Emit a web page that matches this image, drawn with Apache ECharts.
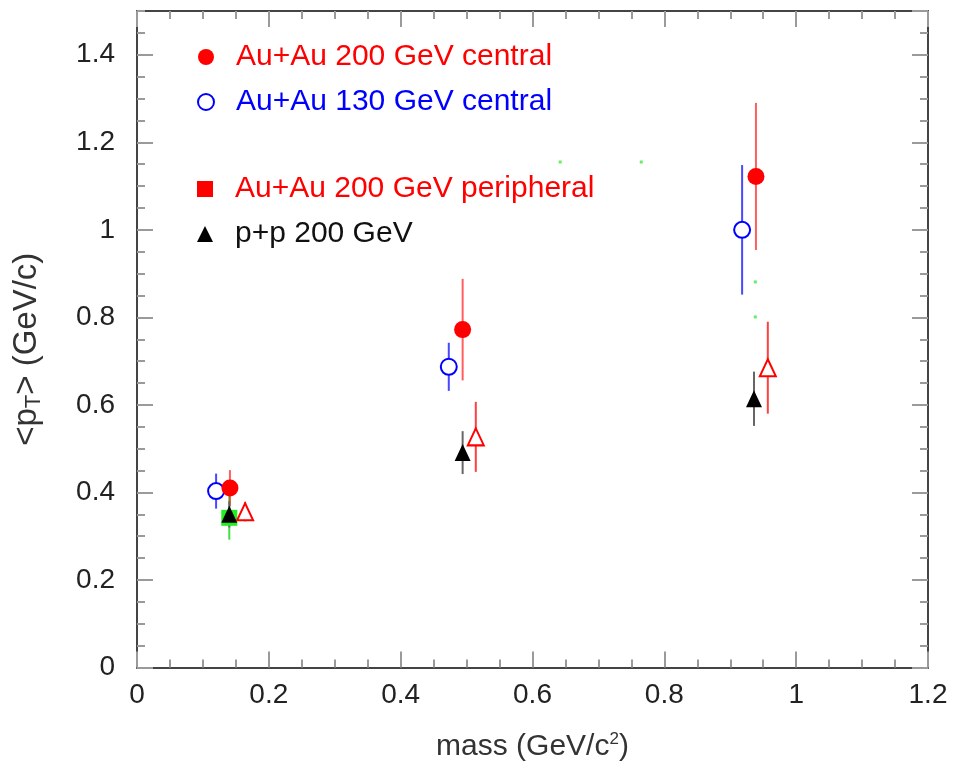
<!DOCTYPE html>
<html>
<head>
<meta charset="utf-8">
<script src="https://cdn.jsdelivr.net/npm/echarts@6/dist/echarts.min.js"></script>
<style>
  html, body { margin: 0; padding: 0; background: #fff; }
  #chart { width: 953px; height: 767px; }
</style>
</head>
<body>
<div id="chart"></div>
<script>
// Mean transverse momentum <pT> versus particle mass (pi, K, p)

// Au+Au 200 GeV central
const central200Mass = [0.141, 0.494, 0.939];
const central200Mean = [0.410, 0.772, 1.122];
const central200Err  = [0.041, 0.116, 0.168];

// Au+Au 130 GeV central
const central130Mass = [0.120, 0.473, 0.918];
const central130Mean = [0.403, 0.687, 1.000];
const central130Err  = [0.040, 0.055, 0.148];

// Au+Au 200 GeV peripheral
const peripheralMass = [0.164, 0.514, 0.957];
const peripheralMean = [0.356, 0.527, 0.685];
const peripheralErr  = [0.022, 0.080, 0.105];

// p+p 200 GeV
const ppMass = [0.140, 0.494, 0.936];
const ppMean = [0.350, 0.491, 0.614];
const ppErr  = [0.030, 0.049, 0.062];

// extra pion point (green)
const greenMass = [0.140];
const greenMean = [0.342];
const greenErr  = [0.050];

// small green dots
const dotMass = [0.642, 0.765, 0.938, 0.938];
const dotMean = [1.155, 1.155, 0.881, 0.801];

// axis ranges and tick spacing
const xRange = [0, 1.2];
const yRange = [0, 1.5];
const majorStepX = 0.2;
const majorStepY = 0.2;
const minorStepY = 0.05;

const FONT = "'Liberation Sans', Arial, Helvetica, sans-serif";
const FRAME = '#444';
const TICK = '#9a9a9a';

const zip = (xs, ys) => xs.map((x, i) => [x, ys[i]]);

function errorBars(name, xs, ys, es, color, z) {
  return {
    type: 'custom',
    name: name,
    silent: true,
    z: z,
    data: xs.map((x, i) => [x, ys[i] - es[i], ys[i] + es[i]]),
    encode: { x: 0, y: [1, 2] },
    renderItem: function (params, api) {
      const lo = api.coord([api.value(0), api.value(1)]);
      const hi = api.coord([api.value(0), api.value(2)]);
      return {
        type: 'line',
        shape: { x1: lo[0], y1: lo[1], x2: hi[0], y2: hi[1] },
        style: { stroke: color, lineWidth: 2 }
      };
    }
  };
}

function yAxisLayer(position, step, tickLen, labels, extra) {
  return Object.assign({
    type: 'value',
    position: position,
    min: yRange[0],
    max: yRange[1],
    interval: step,
    axisLine: { show: true, lineStyle: { color: FRAME, width: 2 } },
    axisTick: { show: true, inside: true, length: tickLen, lineStyle: { color: TICK, width: 2 } },
    axisLabel: labels
      ? { show: true, margin: 22, fontSize: 28, color: '#222', fontFamily: FONT, showMaxLabel: false }
      : { show: false },
    splitLine: { show: false }
  }, extra || {});
}

function xAxisLayer(position, labels, extra) {
  return Object.assign({
    type: 'value',
    position: position,
    min: xRange[0],
    max: xRange[1],
    interval: majorStepX,
    axisLine: { show: true, onZero: false, lineStyle: { color: FRAME, width: 2 } },
    axisTick: { show: true, inside: true, length: 16, lineStyle: { color: TICK, width: 2 } },
    minorTick: { show: true, splitNumber: 4, length: 8, lineStyle: { color: TICK, width: 2 } },
    axisLabel: labels
      ? { show: true, margin: 14, fontSize: 28, color: '#222', fontFamily: FONT }
      : { show: false },
    splitLine: { show: false }
  }, extra || {});
}

const legendText = { fontSize: 30, lineHeight: 30, fontFamily: FONT, padding: [0, 0, 0, 17] };

const option = {
  backgroundColor: '#fff',
  animation: false,
  grid: { left: 137, right: 25, top: 11, bottom: 99 },
  legend: [
    {
      left: 197, top: 42, orient: 'vertical', padding: 0,
      itemWidth: 16, itemHeight: 16, itemGap: 15,
      selectedMode: false,
      textStyle: legendText,
      data: [
        { name: 'Au+Au 200 GeV central', icon: 'circle',
          itemStyle: { color: '#ff0000', borderWidth: 0 }, textStyle: { color: '#ff0000' } },
        { name: 'Au+Au 130 GeV central', icon: 'circle',
          itemStyle: { color: '#fff', borderColor: '#0000ff', borderWidth: 2 }, textStyle: { color: '#0000ff' } }
      ]
    },
    {
      left: 197, top: 174, orient: 'vertical', padding: 0,
      itemWidth: 16, itemHeight: 16, itemGap: 15,
      selectedMode: false,
      textStyle: legendText,
      data: [
        { name: 'Au+Au 200 GeV peripheral', icon: 'rect',
          itemStyle: { color: '#ff0000', borderWidth: 0 }, textStyle: { color: '#ff0000' } },
        { name: 'p+p 200 GeV', icon: 'triangle',
          itemStyle: { color: '#000', borderWidth: 0 }, textStyle: { color: '#111' } }
      ]
    }
  ],
  xAxis: [
    xAxisLayer('bottom', true, {
      name: 'mass (GeV/c{sup|2})',
      nameLocation: 'middle',
      nameGap: 63,
      nameTextStyle: {
        fontSize: 30, color: '#333', fontFamily: FONT,
        rich: { sup: { fontSize: 17, color: '#333', fontFamily: FONT, padding: [0, 0, 16, 0] } }
      }
    }),
    xAxisLayer('top', false)
  ],
  yAxis: [
    yAxisLayer('left', majorStepY, 16, true, {
      name: '<p{sub|T}> (GeV/c)',
      nameLocation: 'middle',
      nameRotate: 90,
      nameGap: 92,
      nameTextStyle: {
        fontSize: 33, color: '#333', fontFamily: FONT,
        padding: [0, 20, 0, 0],
        rich: { sub: { fontSize: 22, color: '#333', fontFamily: FONT, padding: [15, 0, 0, 0] } }
      }
    }),
    yAxisLayer('left', minorStepY, 8, false, { axisLine: { show: false } }),
    yAxisLayer('right', majorStepY, 16, false),
    yAxisLayer('right', minorStepY, 8, false, { axisLine: { show: false } })
  ],
  series: [
    {
      type: 'scatter', name: 'Au+Au 200 GeV central',
      data: zip(central200Mass, central200Mean),
      symbol: 'circle', symbolSize: 17,
      itemStyle: { color: '#ff0000', opacity: 1 }, z: 6
    },
    {
      type: 'scatter', name: 'Au+Au 130 GeV central',
      data: zip(central130Mass, central130Mean),
      symbol: 'circle', symbolSize: 16,
      itemStyle: { color: '#fff', borderColor: '#0000ff', borderWidth: 2, opacity: 1 }, z: 5
    },
    {
      type: 'scatter', name: 'Au+Au 200 GeV peripheral',
      data: zip(peripheralMass, peripheralMean),
      symbol: 'triangle', symbolSize: [16, 17],
      itemStyle: { color: '#fff', borderColor: '#ff0000', borderWidth: 2, opacity: 1 }, z: 5
    },
    {
      type: 'scatter', name: 'p+p 200 GeV',
      data: zip(ppMass, ppMean),
      symbol: 'triangle', symbolSize: [16, 17],
      itemStyle: { color: '#000', opacity: 1 }, z: 4
    },
    {
      type: 'scatter', name: 'green',
      data: zip(greenMass, greenMean),
      symbol: 'rect', symbolSize: 16,
      itemStyle: { color: '#22ee22', opacity: 1 }, z: 3
    },
    {
      type: 'scatter', name: 'dots', silent: true,
      data: zip(dotMass, dotMean),
      symbol: 'rect', symbolSize: 3,
      itemStyle: { color: '#66ee66', opacity: 1 }, z: 1
    },
    errorBars('Au+Au 200 GeV central', central200Mass, central200Mean, central200Err, 'rgba(255,40,40,0.75)', 2),
    errorBars('Au+Au 130 GeV central', central130Mass, central130Mean, central130Err, 'rgba(40,40,255,0.85)', 2),
    errorBars('Au+Au 200 GeV peripheral', peripheralMass, peripheralMean, peripheralErr, 'rgba(255,30,30,0.85)', 2),
    errorBars('p+p 200 GeV', ppMass, ppMean, ppErr, '#666', 2),
    errorBars('green', greenMass, greenMean, greenErr, '#44dd44', 1)
  ]
};

const chart = echarts.init(document.getElementById('chart'), null, { renderer: 'canvas' });
chart.setOption(option);
</script>
</body>
</html>
